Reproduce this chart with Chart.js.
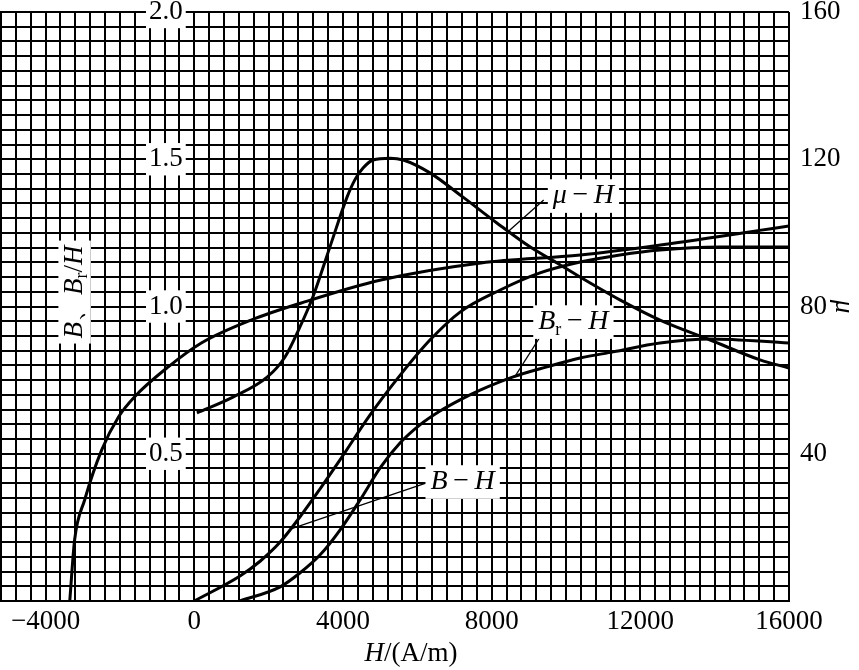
<!DOCTYPE html>
<html>
<head>
<meta charset="utf-8">
<script src="https://cdn.jsdelivr.net/npm/chart.js@4.4.1/dist/chart.umd.min.js"></script>
<style>
  html, body { margin: 0; padding: 0; background: #fff; }
  #wrap { width: 859px; height: 670px; }
</style>
</head>
<body>
<div id="wrap"><canvas id="c" width="859" height="670"></canvas></div>
<script>
const SERIF = "'Liberation Serif', 'Times New Roman', serif";

// H in A/m
const H_LOOP = [-3350, -3220, -2950, -2490, -2040, -1610, -700, 190, 1530, 2880, 5020, 7710, 10390, 12540, 16000];
const B_LOOP = [0, 0.207, 0.343, 0.513, 0.625, 0.693, 0.795, 0.876, 0.954, 1.012, 1.09, 1.148, 1.175, 1.209, 1.273];

const H_BH = [0, 1230, 1770, 2310, 2840, 3380, 3920, 4730, 5540, 6340, 7150, 8230, 9300, 10380, 11450, 12530, 14140, 16000];
const B_BH = [0, 0.085, 0.135, 0.2, 0.285, 0.38, 0.479, 0.632, 0.767, 0.886, 0.981, 1.056, 1.114, 1.151, 1.175, 1.192, 1.202, 1.202];

const H_BR = [1230, 2310, 2840, 3380, 3920, 4460, 5000, 5540, 6070, 6610, 7150, 7690, 8580, 9490, 10380, 11270, 12530, 13880, 16000];
const B_BR = [0, 0.048, 0.095, 0.156, 0.241, 0.343, 0.452, 0.537, 0.598, 0.645, 0.683, 0.716, 0.761, 0.795, 0.825, 0.846, 0.876, 0.89, 0.876];

const H_MU = [70, 1040, 1960, 2440, 2840, 3190, 3650, 4110, 4320, 4540, 4810, 5270, 5620, 6340, 7230, 8140, 9030, 9760, 10380, 11450, 12530, 13880, 15220, 16000];
const MU = [51.1, 55.4, 60.8, 66.3, 74.4, 82.6, 96.2, 109.7, 114.4, 117.6, 119.8, 120.3, 119.8, 116.3, 109.7, 102.7, 96.2, 91.8, 88.0, 81.8, 76.3, 70.9, 65.5, 63.3];

const X_TICKS = [-4000, 0, 4000, 8000, 12000, 16000];
const B_TICKS = [0.5, 1.0, 1.5, 2.0];
const MU_TICKS = [40, 80, 120, 160];

// curve labels: text parts, centre (H, B), leader line (H, B) -> (H, B)
const DASH = '\u2009−\u2009';
const NOTE_TEXT = [
  [['μ', 'i'], [DASH, ''], ['H', 'i']],
  [['B', 'i'], ['r', 'sub'], [DASH, ''], ['H', 'i']],
  [['B', 'i'], [DASH, ''], ['H', 'i']]
];
const NOTE_AT = [[10470, 1.375], [10200, 0.947], [7220, 0.404]];
const NOTE_LEADER = [
  [[8460, 1.256], [9400, 1.362]],
  [[8650, 0.767], [9370, 0.91]],
  [[2600, 0.245], [6230, 0.40]]
];
const Y_TITLE = [['B', 'i'], ['、', ''], ['B', 'i'], ['r', 'sub'], ['/', ''], ['H', 'i']];
const Y_TITLE_AT = [-3220, 1.049];
const X_TITLE = [['H', 'i'], ['/(A/m)', '']];

function pts(hs, vs) {
  return hs.map((h, i) => ({ x: h, y: vs[i] }));
}

function fontFor(style, size) {
  if (style === 'i') return 'italic ' + size + 'px ' + SERIF;
  if (style === 'sub') return Math.round(size * 0.65) + 'px ' + SERIF;
  return size + 'px ' + SERIF;
}

function drawRich(ctx, parts, cx, cy, size, bg) {
  let w = 0;
  for (const [t, s] of parts) {
    ctx.font = fontFor(s, size);
    w += ctx.measureText(t).width;
  }
  if (bg) {
    ctx.fillStyle = '#fff';
    ctx.fillRect(cx - w / 2 - 5, cy - size * 0.6, w + 10, size * 1.2);
  }
  let x = cx - w / 2;
  ctx.fillStyle = '#000';
  ctx.textAlign = 'left';
  ctx.textBaseline = 'middle';
  for (const [t, s] of parts) {
    ctx.font = fontFor(s, size);
    ctx.fillText(t, x, s === 'sub' ? cy + size * 0.28 : cy);
    x += ctx.measureText(t).width;
  }
}

const notes = {
  id: 'notes',
  afterDatasetsDraw(chart) {
    const ctx = chart.ctx;
    const xs = chart.scales.x, ys = chart.scales.y;
    ctx.save();
    ctx.strokeStyle = '#000';
    ctx.lineWidth = 1.3;
    NOTE_LEADER.forEach(l => {
      ctx.beginPath();
      ctx.moveTo(xs.getPixelForValue(l[0][0]), ys.getPixelForValue(l[0][1]));
      ctx.lineTo(xs.getPixelForValue(l[1][0]), ys.getPixelForValue(l[1][1]));
      ctx.stroke();
    });
    NOTE_TEXT.forEach((parts, i) => {
      drawRich(ctx, parts, xs.getPixelForValue(NOTE_AT[i][0]), ys.getPixelForValue(NOTE_AT[i][1]), 28, true);
    });
    ctx.save();
    ctx.translate(xs.getPixelForValue(Y_TITLE_AT[0]), ys.getPixelForValue(Y_TITLE_AT[1]));
    ctx.rotate(-Math.PI / 2);
    drawRich(ctx, Y_TITLE, 0, 0, 27, true);
    ctx.restore();
    drawRich(ctx, X_TITLE, xs.getPixelForValue(5830), chart.height - 16, 27, false);
    ctx.restore();
  }
};

const line = (data, axis) => ({
  data: data,
  yAxisID: axis,
  borderColor: '#000',
  borderWidth: 3,
  pointRadius: 0,
  fill: false,
  cubicInterpolationMode: 'monotone'
});

const isB = v => B_TICKS.some(t => Math.abs(t - v) < 1e-6);

// vertical axes: keep the chart area edges fixed
const noVPad = s => { s.paddingTop = 0; s.paddingBottom = 0; };

new Chart(document.getElementById('c'), {
  type: 'line',
  data: {
    datasets: [
      line(pts(H_LOOP, B_LOOP), 'y'),
      line(pts(H_BH, B_BH), 'y'),
      line(pts(H_BR, B_BR), 'y'),
      line(pts(H_MU, MU), 'mu')
    ]
  },
  options: {
    responsive: false,
    animation: false,
    layout: { padding: { top: 12, left: 0, right: 0, bottom: 0 } },
    plugins: { legend: { display: false }, tooltip: { enabled: false } },
    scales: {
      x: {
        type: 'linear',
        min: -5200,
        max: 16000,
        afterFit: s => { s.height = 69; s.paddingLeft = 0; s.paddingRight = 0; },
        grid: { color: '#000', lineWidth: 2, drawTicks: false },
        border: { color: '#000', width: 2 },
        ticks: {
          stepSize: 400,
          autoSkip: false,
          maxRotation: 0,
          padding: 5,
          color: '#000',
          font: { family: SERIF, size: 27 },
          callback: v => X_TICKS.includes(v) ? (v < 0 ? '−' + Math.abs(v) : String(v)) : ''
        }
      },
      y: {
        position: 'left',
        min: 0,
        max: 2,
        afterFit: s => { s.width = 1; noVPad(s); },
        grid: { color: '#000', lineWidth: 2, drawTicks: false },
        border: { color: '#000', width: 2 },
        ticks: {
          stepSize: 0.05,
          autoSkip: false,
          mirror: true,
          padding: 148,
          color: '#000',
          font: { family: SERIF, size: 27 },
          showLabelBackdrop: c => isB(c.tick.value),
          backdropColor: '#fff',
          backdropPadding: { top: 0, bottom: 0, left: 3, right: 3 },
          callback: v => isB(v) ? v.toFixed(1) : ''
        }
      },
      mu: {
        position: 'right',
        min: 0,
        max: 160,
        afterFit: s => { s.width = 70; noVPad(s); },
        grid: { display: false, drawTicks: false },
        border: { display: false },
        title: {
          display: true,
          text: 'μ',
          color: '#000',
          padding: 0,
          font: { family: SERIF, size: 27, style: 'italic' }
        },
        ticks: {
          stepSize: 40,
          padding: 11,
          color: '#000',
          font: { family: SERIF, size: 27 },
          callback: v => MU_TICKS.includes(v) ? String(v) : ''
        }
      }
    }
  },
  plugins: [notes]
});
</script>
</body>
</html>
